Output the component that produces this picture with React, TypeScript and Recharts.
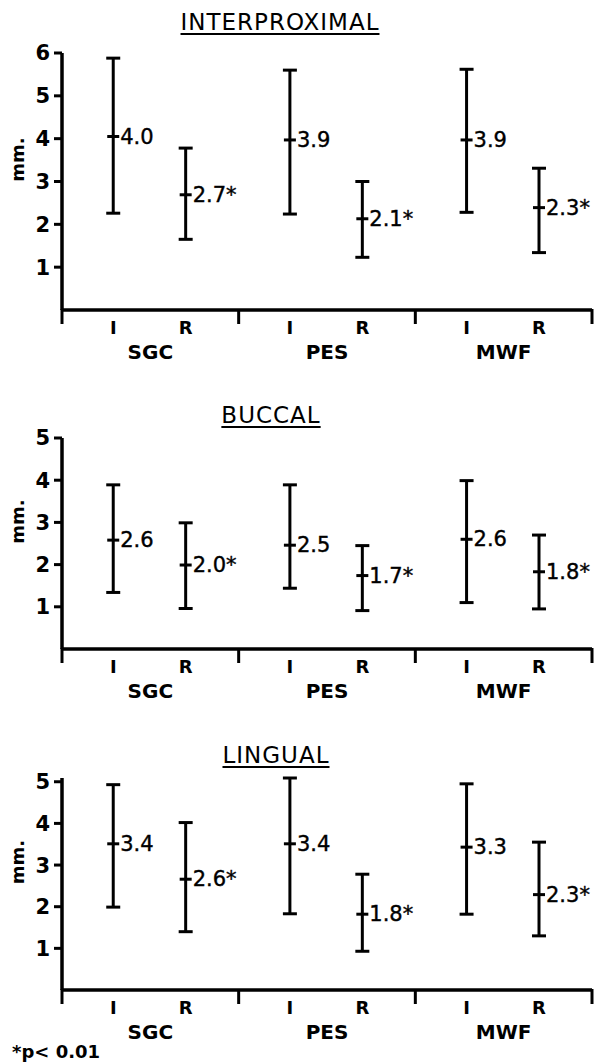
import React from 'react';
import { ComposedChart, Scatter, ErrorBar, XAxis, YAxis } from 'recharts';

const groups = ['SGC', 'PES', 'MWF'];
const treatments = ['I', 'R'];
const treatmentOffsets = [0.29, 0.7];

// order: SGC-I, SGC-R, PES-I, PES-R, MWF-I, MWF-R
const interproxLow = [2.26, 1.65, 2.24, 1.23, 2.28, 1.34];
const interproxMean = [4.05, 2.69, 3.97, 2.13, 3.97, 2.39];
const interproxHigh = [5.88, 3.78, 5.6, 3.0, 5.62, 3.31];
const interproxLabels = ['4.0', '2.7*', '3.9', '2.1*', '3.9', '2.3*'];

const buccalLow = [1.34, 0.96, 1.44, 0.91, 1.1, 0.95];
const buccalMean = [2.58, 1.99, 2.46, 1.74, 2.6, 1.83];
const buccalHigh = [3.89, 2.99, 3.89, 2.45, 3.99, 2.7];
const buccalLabels = ['2.6', '2.0*', '2.5', '1.7*', '2.6', '1.8*'];

const lingualLow = [1.99, 1.4, 1.83, 0.93, 1.82, 1.3];
const lingualMean = [3.51, 2.66, 3.51, 1.82, 3.43, 2.29];
const lingualHigh = [4.93, 4.02, 5.09, 2.78, 4.95, 3.55];
const lingualLabels = ['3.4', '2.6*', '3.4', '1.8*', '3.3', '2.3*'];

const interproxTicks = [1, 2, 3, 4, 5, 6];
const smallTicks = [1, 2, 3, 4, 5];

const FONT = '"DejaVu Sans", sans-serif';

function buildData(low: number[], mean: number[], high: number[], labels: string[]) {
  const rows: any[] = [];
  groups.forEach((g, gi) => {
    treatments.forEach((t, ti) => {
      const i = gi * treatments.length + ti;
      rows.push({
        x: gi + treatmentOffsets[ti],
        mean: mean[i],
        err: [mean[i] - low[i], high[i] - mean[i]],
        label: labels[i],
      });
    });
  });
  return rows;
}

const xTicks: number[] = [];
groups.forEach((g, gi) => {
  xTicks.push(gi);
  treatmentOffsets.forEach((o) => xTicks.push(gi + o));
  xTicks.push(gi + 0.5);
});
xTicks.push(groups.length);

const XTick = (props: any) => {
  const { x, y, payload } = props;
  const v = payload.value as number;
  const gi = Math.floor(v + 1e-6);
  const frac = v - gi;
  if (Math.abs(frac) < 1e-6) {
    return <line x1={x} y1={y - 1} x2={x} y2={y + 14} stroke="#000" strokeWidth={3} />;
  }
  const ti = treatmentOffsets.findIndex((o) => Math.abs(o - frac) < 1e-6);
  if (ti >= 0) {
    return (
      <text x={x} y={y + 17} textAnchor="middle" dominantBaseline="central" fontFamily={FONT} fontWeight="bold" fontSize={18} fill="#000">
        {treatments[ti]}
      </text>
    );
  }
  return (
    <text x={x} y={y + 42} textAnchor="middle" dominantBaseline="central" fontFamily={FONT} fontWeight="bold" fontSize={20} fill="#000">
      {groups[gi]}
    </text>
  );
};

const MeanMark = (props: any) => {
  const { cx, cy, payload } = props;
  return (
    <g>
      <line x1={cx - 6} y1={cy} x2={cx + 6} y2={cy} stroke="#000" strokeWidth={3} />
      <text x={cx + 7} y={cy} dominantBaseline="central" fontFamily={FONT} fontSize={21} fill="#000" stroke="#000" strokeWidth={0.4}>
        {payload.label}
      </text>
    </g>
  );
};

const YLabel = (props: any) => {
  const { viewBox } = props;
  const cy = viewBox.y + viewBox.height / 2 - 22;
  return (
    <text transform={`translate(17,${cy}) rotate(-90)`} textAnchor="middle" dominantBaseline="central" fontFamily={FONT} fontWeight="bold" fontSize={18} fill="#000">
      mm.
    </text>
  );
};

type PanelProps = {
  top: number;
  height: number;
  bottom: number;
  yMax: number;
  yTicks: number[];
  data: any[];
};

const Panel = ({ top, height, bottom, yMax, yTicks, data }: PanelProps) => (
  <div style={{ position: 'absolute', left: 0, top, width: 597, height }}>
    <ComposedChart width={597} height={height} data={data} margin={{ top: 53, right: 5, left: 0, bottom }}>
      <XAxis
        dataKey="x"
        type="number"
        domain={[0, groups.length]}
        ticks={xTicks}
        interval={0}
        tick={<XTick />}
        tickLine={false}
        tickSize={0}
        tickMargin={0}
        height={50}
        axisLine={{ stroke: '#000', strokeWidth: 3.5 }}
      />
      <YAxis
        type="number"
        domain={[0, yMax]}
        ticks={yTicks}
        interval={0}
        width={62}
        tickSize={8}
        tickMargin={4}
        axisLine={{ stroke: '#000', strokeWidth: 3.5 }}
        tickLine={{ stroke: '#000', strokeWidth: 3 }}
        tick={{ fill: '#000', fontSize: 21, fontWeight: 'bold', fontFamily: FONT }}
        label={<YLabel />}
      />
      <Scatter dataKey="mean" isAnimationActive={false} shape={<MeanMark />}>
        <ErrorBar dataKey="err" direction="y" width={7} stroke="#000" strokeWidth={3} />
      </Scatter>
    </ComposedChart>
  </div>
);

const Title = ({ text, top, left }: { text: string; top: number; left: number }) => (
  <div
    style={{
      position: 'absolute',
      top,
      left,
      width: 220,
      textAlign: 'center',
      fontFamily: FONT,
      fontSize: 23,
      letterSpacing: 1,
      color: '#000',
      textDecoration: 'underline',
      textDecorationThickness: 2,
      textUnderlineOffset: 3,
      lineHeight: '24px',
    }}
  >
    {text}
  </div>
);

export default function App() {
  return (
    <div style={{ position: 'absolute', left: 0, top: 0, width: 597, height: 1063, background: '#fff', overflow: 'hidden' }}>
      <Title text="INTERPROXIMAL" top={10} left={170} />
      <Title text="BUCCAL" top={403} left={161} />
      <Title text="LINGUAL" top={743} left={166} />
      <Panel top={0} height={370} bottom={10} yMax={6} yTicks={interproxTicks} data={buildData(interproxLow, interproxMean, interproxHigh, interproxLabels)} />
      <Panel top={385} height={330} bottom={16} yMax={5} yTicks={smallTicks} data={buildData(buccalLow, buccalMean, buccalHigh, buccalLabels)} />
      <Panel top={725} height={338} bottom={23} yMax={5} yTicks={smallTicks} data={buildData(lingualLow, lingualMean, lingualHigh, lingualLabels)} />
      <div style={{ position: 'absolute', left: 12, top: 1042, fontFamily: FONT, fontWeight: 'bold', fontSize: 18, color: '#000', lineHeight: '20px' }}>
        *p&lt; 0.01
      </div>
    </div>
  );
}
